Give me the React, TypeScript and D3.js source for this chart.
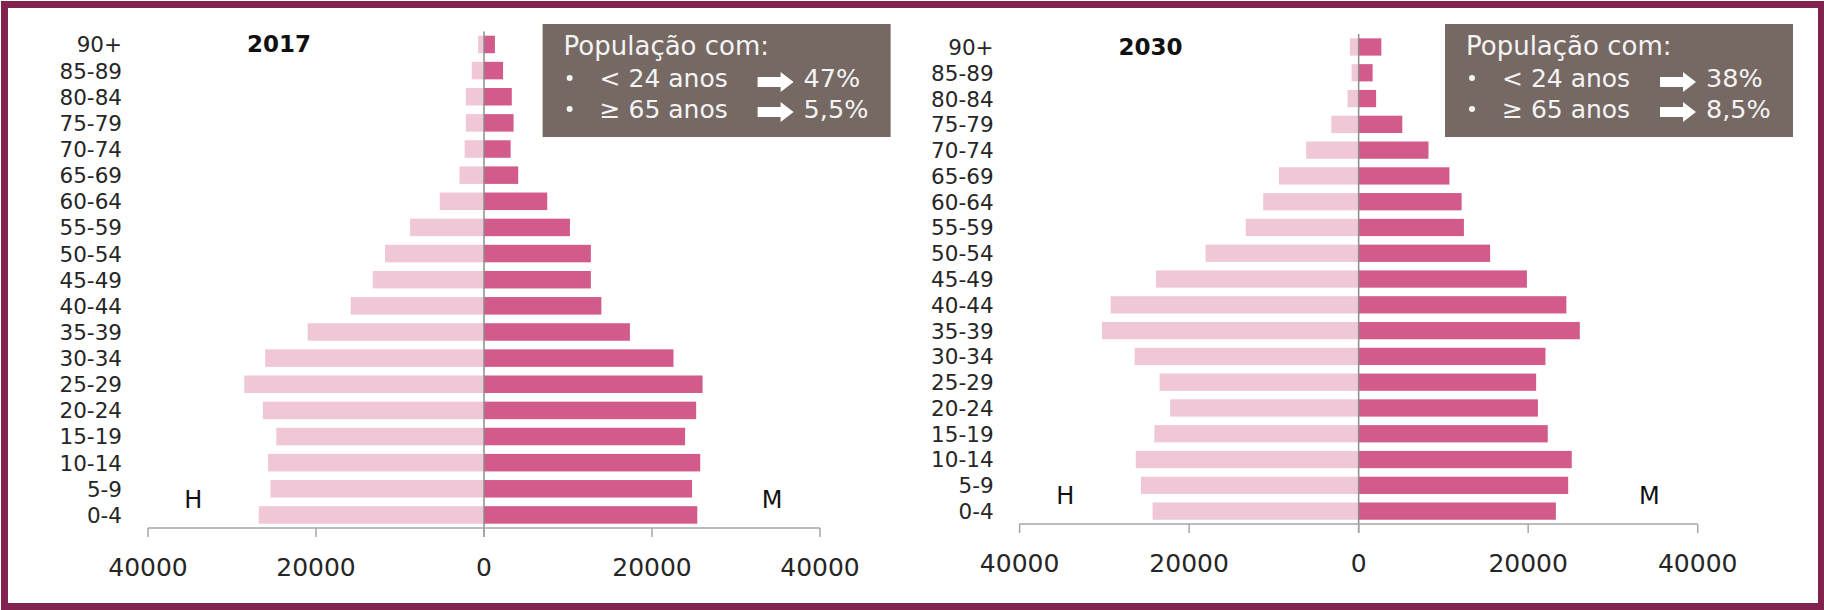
import * as d3 from "d3";

// age groups, youngest first
const ageGroups = [
  "0-4", "5-9", "10-14", "15-19", "20-24", "25-29", "30-34", "35-39", "40-44",
  "45-49", "50-54", "55-59", "60-64", "65-69", "70-74", "75-79", "80-84", "85-89", "90+",
];

const men2017 = [26810, 25420, 25700, 24730, 26320, 28540, 26050, 20990, 15870, 13240, 11780, 8800, 5270, 2920, 2300, 2160, 2160, 1460, 700];
const women2017 = [25390, 24770, 25740, 23940, 25260, 26020, 22560, 17370, 13970, 12720, 12720, 10230, 7530, 4070, 3170, 3520, 3310, 2270, 1300];
const men2030 = [24310, 25680, 26300, 24100, 22240, 23480, 26430, 30280, 29260, 23900, 18060, 13320, 11260, 9410, 6190, 3220, 1310, 830, 1030];
const women2030 = [23270, 24720, 25140, 22310, 21150, 20940, 22040, 26090, 24510, 19850, 15510, 12420, 12150, 10710, 8240, 5150, 2060, 1650, 2680];

const xTicks = [-40000, -20000, 0, 20000, 40000];
const boxTitle = "População com:";
const boxRows = ["< 24 anos", "≥ 65 anos"];
const share2017 = ["47%", "5,5%"];
const share2030 = ["38%", "8,5%"];

const W = 1824, H = 610;
const FONT = "DejaVu Sans, sans-serif";
const menColor = "#efc7d7";
const womenColor = "#d35b8b";
const boxColor = "#766964";
const textColor = "#262626";

type PanelProps = {
  year: string;
  men: number[];
  women: number[];
  shares: string[];
  x0: number;
  x1: number;
  y0: number;
  y1: number;
  boxX: number;
};

const Arrow = ({ x, y }: { x: number; y: number }) => (
  <path
    d={`M${x},${y - 5} L${x + 23},${y - 5} L${x + 23},${y - 10} L${x + 36},${y} L${x + 23},${y + 10} L${x + 23},${y + 5} L${x},${y + 5} Z`}
    fill="#ffffff"
  />
);

const Panel = ({ year, men, women, shares, x0, x1, y0, y1, boxX }: PanelProps) => {
  const x = d3.scaleLinear().domain([-40000, 40000]).range([x0, x1]);
  const y = d3
    .scaleBand<string>()
    .domain([...ageGroups].reverse())
    .range([y0, y1])
    .paddingInner(0.33)
    .paddingOuter(0.165);
  const zero = x(0);
  const bw = y.bandwidth();
  const half = y.step() / 2;

  return (
    <g>
      {/* bars */}
      {ageGroups.map((g, i) => (
        <g key={g}>
          <rect x={x(-men[i])} y={y(g)!} width={zero - x(-men[i])} height={bw} fill={menColor} />
          <rect x={zero} y={y(g)!} width={x(women[i]) - zero} height={bw} fill={womenColor} />
          <text
            x={x0 - 26}
            y={y(g)! + bw / 2}
            dy="0.37em"
            textAnchor="end"
            fontSize={21.5}
            fill={textColor}
          >
            {g}
          </text>
        </g>
      ))}

      {/* zero line */}
      <line x1={zero} x2={zero} y1={y0} y2={y1 + 9} stroke="#8c8c8c" strokeWidth={1.5} />

      {/* x axis */}
      <line x1={x0} x2={x1} y1={y1} y2={y1} stroke="#a6a6a6" strokeWidth={1.5} />
      {xTicks.map((t) => (
        <g key={t}>
          <line x1={x(t)} x2={x(t)} y1={y1} y2={y1 + 9} stroke="#a6a6a6" strokeWidth={1.5} />
          <text x={x(t)} y={y1 + 48} textAnchor="middle" fontSize={25} fill={textColor}>
            {Math.abs(t)}
          </text>
        </g>
      ))}

      {/* year + sex labels */}
      <text x={x0 + 99} y={y0 + half + 8} fontSize={23} fontWeight="bold" fill="#111">
        {year}
      </text>
      <text x={x(-34600)} y={y1 - 20} textAnchor="middle" fontSize={24} fill="#111">
        H
      </text>
      <text x={x(34300)} y={y1 - 20} textAnchor="middle" fontSize={24} fill="#111">
        M
      </text>

      {/* info box */}
      <rect x={boxX} y={24} width={348} height={113} fill={boxColor} />
      <text x={boxX + 21} y={55} fontSize={26} fill="#f4f4f4">
        {boxTitle}
      </text>
      {boxRows.map((r, i) => (
        <g key={r}>
          <circle cx={boxX + 27} cy={78 + i * 31} r={3} fill="#f4f4f4" />
          <text x={boxX + 57} y={87 + i * 31} fontSize={25} fill="#f4f4f4">
            {r}
          </text>
          <Arrow x={boxX + 215} y={82 + i * 30} />
          <text x={boxX + 261} y={87 + i * 31} fontSize={25.5} fill="#f4f4f4">
            {shares[i]}
          </text>
        </g>
      ))}
    </g>
  );
};

export default function App() {
  return (
    <div style={{ position: "absolute", left: 0, top: 0 }}>
      <svg width={W} height={H} style={{ display: "block", fontFamily: FONT }}>
        <rect width={W} height={H} fill="#ffffff" />
        <Panel
          year="2017"
          men={men2017}
          women={women2017}
          shares={share2017}
          x0={148}
          x1={820}
          y0={31.4}
          y1={528}
          boxX={542.6}
        />
        <Panel
          year="2030"
          men={men2030}
          women={women2030}
          shares={share2030}
          x0={1019.6}
          x1={1697.7}
          y0={34.1}
          y1={524}
          boxX={1445}
        />
        <rect x={4.5} y={4.5} width={1817} height={602} fill="none" stroke="#82224f" strokeWidth={7} />
      </svg>
    </div>
  );
}
